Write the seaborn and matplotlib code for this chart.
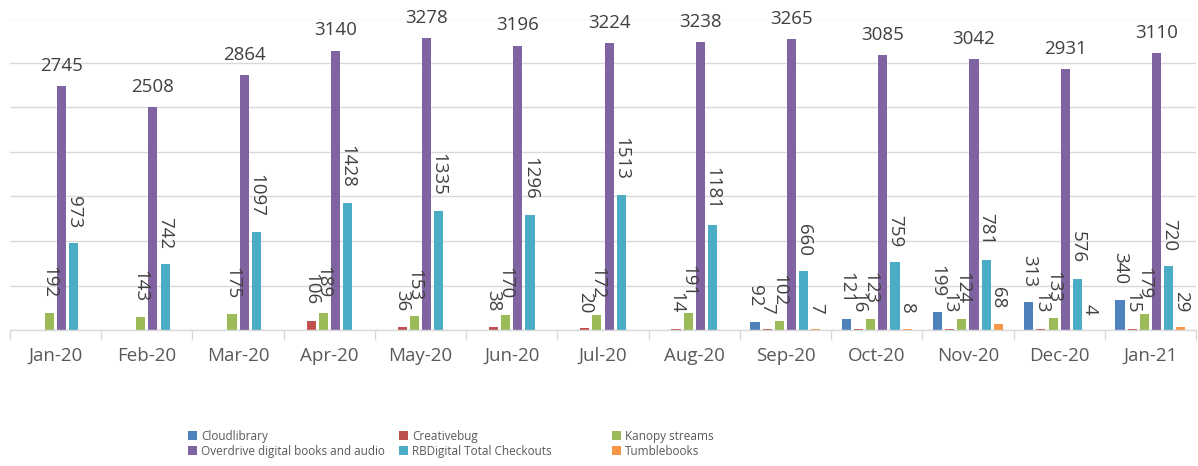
import numpy as np
import pandas as pd
import matplotlib
matplotlib.use("Agg")
import matplotlib.pyplot as plt
import seaborn as sns
from matplotlib.patches import Patch

months = ["Jan-20", "Feb-20", "Mar-20", "Apr-20", "May-20", "Jun-20", "Jul-20",
          "Aug-20", "Sep-20", "Oct-20", "Nov-20", "Dec-20", "Jan-21"]
cloudlibrary = [None, None, None, None, None, None, None, None, 92, 121, 199, 313, 340]
creativebug = [None, None, None, 106, 36, 38, 20, 14, 7, 16, 13, 13, 15]
kanopy = [192, 143, 175, 189, 153, 170, 172, 191, 102, 123, 124, 133, 179]
overdrive = [2745, 2508, 2864, 3140, 3278, 3196, 3224, 3238, 3265, 3085, 3042, 2931, 3110]
rbdigital = [973, 742, 1097, 1428, 1335, 1296, 1513, 1181, 660, 759, 781, 576, 720]
tumblebooks = [None, None, None, None, None, None, None, None, 7, 8, 68, 4, 29]

series_names = ["Cloudlibrary", "Creativebug", "Kanopy streams",
                "Overdrive digital books and audio", "RBDigital Total Checkouts", "Tumblebooks"]
series_values = [cloudlibrary, creativebug, kanopy, overdrive, rbdigital, tumblebooks]
colors = ["#4F81BD", "#C0504D", "#9BBB59", "#8064A2", "#4BACC6", "#F79646"]

sns.set_theme(style="white")
plt.rcParams["font.family"] = ["Open Sans", "DejaVu Sans"]

rows = []
for name, vals in zip(series_names, series_values):
    for m, v in zip(months, vals):
        if v is not None:
            rows.append({"month": m, "series": name, "value": v})
df = pd.DataFrame(rows)

W, H = 1198, 466
fig = plt.figure(figsize=(W / 100, H / 100), dpi=100)
ax = fig.add_axes([10 / W, 1 - 330 / H, 1186 / W, (330 - 18.5) / H])

sns.barplot(data=df, x="month", y="value", hue="series", order=months,
            hue_order=series_names, palette=colors, saturation=1, gap=0.25,
            linewidth=0, legend=False, errorbar=None, ax=ax)

ax.set_xlim(-0.5, len(months) - 0.5)
ax.set_ylim(0, 3500)
ax.set_yticks(np.arange(0, 3501, 500))
ax.set_yticklabels([])
ax.yaxis.grid(True, color="#d9d9d9", linewidth=1)
ax.set_axisbelow(True)
ax.set_xlabel("")
ax.set_ylabel("")
for s in ["left", "right", "top"]:
    ax.spines[s].set_visible(False)
ax.spines["bottom"].set_color("#d9d9d9")
ax.spines["bottom"].set_linewidth(1)
ax.set_xticks(np.arange(-0.5, len(months), 1), minor=True)
ax.tick_params(axis="x", which="minor", length=7, color="#d9d9d9", width=1, bottom=True)
ax.tick_params(axis="x", which="major", length=0, pad=12, labelsize=13.5, labelcolor="#595959")
ax.tick_params(axis="y", length=0)

for name, cont in zip(series_names, ax.containers):
    if name.startswith("Overdrive"):
        ax.bar_label(cont, fmt="%g", padding=8, fontsize=13.5, color="#404040")
    else:
        ax.bar_label(cont, fmt="%g", padding=11, fontsize=13.5, color="#404040", rotation=-90)

handles = [Patch(facecolor=c, edgecolor="none") for c in colors]
col_x = [188, 399, 612]
for k in range(3):
    idx = [k, k + 3]
    fig.legend([handles[i] for i in idx], [series_names[i] for i in idx],
               loc="upper left", bbox_to_anchor=(col_x[k] / W, 1 - 430 / H),
               frameon=False, fontsize=8.5, borderpad=0, borderaxespad=0,
               handlelength=0.8, handleheight=0.8, handletextpad=0.3,
               labelspacing=0.15, labelcolor="#595959")

fig.savefig("out.png", dpi=100)
